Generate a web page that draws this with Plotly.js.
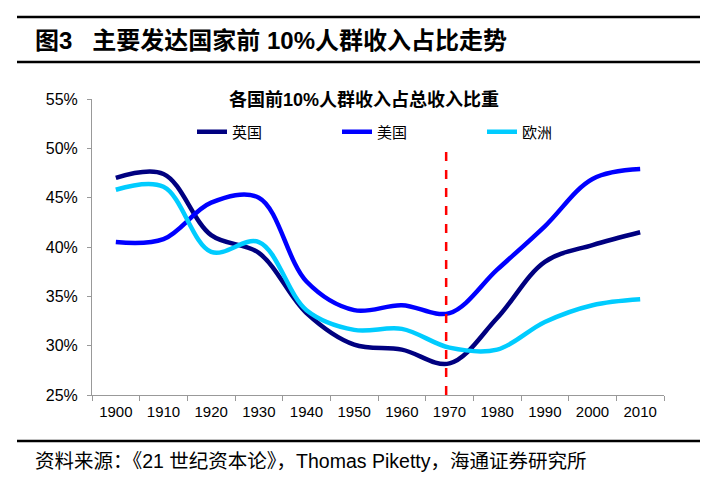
<!DOCTYPE html>
<html><head><meta charset="utf-8">
<script src="https://cdn.plot.ly/plotly-3.0.1.min.js"></script>
<style>body{margin:0;background:#fff}#c{width:710px;height:480px}</style>
</head><body><div id="c"></div>
<script>
const years = ['1900','1910','1920','1930','1940','1950','1960','1970','1980','1990','2000','2010'];
const uk = [47.0, 47.4, 41.2, 39.4, 33.3, 30.1, 29.6, 28.2, 32.8, 38.5, 40.2, 41.5];
const us = [40.5, 40.8, 44.5, 45.0, 36.5, 33.6, 34.1, 33.3, 37.7, 42.1, 46.9, 47.9];
const eu = [45.8, 46.1, 39.5, 40.5, 33.6, 31.6, 31.7, 29.8, 29.6, 32.4, 34.1, 34.7];
const seriesNames = ['英国', '美国', '欧洲'];
const markYear = '1970';
const markRange = [25, 50];
const header = '图3&nbsp;&nbsp;&nbsp;主要发达国家前 10%人群收入占比走势';
const chartTitle = '各国前10%人群收入占总收入比重';
const source = '资料来源：《21 世纪资本论》，Thomas Piketty，海通证券研究所';

const cjk = '"Noto Sans CJK SC", sans-serif';
const mixed = '"Liberation Sans", "Noto Sans CJK SC", sans-serif';
const arial = '"Liberation Sans", Arial, sans-serif';
const colors = ['#000080', '#0000FF', '#00CCFF'];
const data = [uk, us, eu].map((v, i) => ({
  x: years, y: v, name: seriesNames[i], type: 'scatter', mode: 'lines',
  line: {color: colors[i], width: 4.5, shape: 'spline', smoothing: 1}
}));

const markIdx = years.indexOf(markYear);
const layout = {
  width: 710, height: 480,
  margin: {l: 92, r: 46, t: 99, b: 85},
  paper_bgcolor: '#fff', plot_bgcolor: '#fff',
  showlegend: true,
  title: {text: '<b>' + chartTitle + '</b>', x: 364/710, xanchor: 'center', y: 1 - 100/480, yanchor: 'middle', yref: 'container', xref: 'container',
    font: {family: mixed, size: 18, color: '#000'}},
  legend: {orientation: 'h', x: (192-92)/572, xanchor: 'left', y: (395-132)/296, yanchor: 'middle',
    font: {family: cjk, size: 15, color: '#000'}, entrywidth: 100, entrywidthmode: 'pixels', bgcolor: 'rgba(0,0,0,0)'},
  xaxis: {type: 'category', range: [-0.5, 11.5], tickson: 'boundaries', ticks: 'outside', ticklen: 5, tickcolor: '#999',
    showline: true, linecolor: '#999', linewidth: 1, showgrid: false, zeroline: false, ticklabelstandoff: 3,
    tickfont: {family: arial, size: 15, color: '#000'}, fixedrange: true},
  yaxis: {range: [25, 55], dtick: 5, ticksuffix: '%', ticks: 'outside', ticklen: 4, tickcolor: '#999',
    showline: true, linecolor: '#999', linewidth: 1, showgrid: false, zeroline: false, ticklabelstandoff: 6,
    tickfont: {family: arial, size: 16, color: '#000'}, fixedrange: true},
  shapes: [
    {type: 'line', xref: 'x', yref: 'y', x0: markIdx - 0.07, x1: markIdx - 0.07, y0: markRange[0], y1: markRange[1],
      line: {color: '#FF0000', width: 2.5, dash: 'dash'}},
    {type: 'line', xref: 'paper', yref: 'paper', x0: (17-92)/572, x1: (700-92)/572, y0: (395-17)/296, y1: (395-17)/296,
      line: {color: '#000', width: 2.5}},
    {type: 'line', xref: 'paper', yref: 'paper', x0: (17-92)/572, x1: (700-92)/572, y0: (395-62)/296, y1: (395-62)/296,
      line: {color: '#000', width: 2.5}},
    {type: 'line', xref: 'paper', yref: 'paper', x0: (17-92)/572, x1: (700-92)/572, y0: (395-441)/296, y1: (395-441)/296,
      line: {color: '#000', width: 2.5}}
  ],
  annotations: [
    {text: '<b>' + header + '</b>', xref: 'paper', yref: 'paper', x: (33-92)/572, y: (395-41)/296, xanchor: 'left', yanchor: 'middle',
      showarrow: false, font: {family: mixed, size: 24, color: '#000'}},
    {text: source, xref: 'paper', yref: 'paper', x: (33-92)/572, y: (395-461)/296, xanchor: 'left', yanchor: 'middle',
      showarrow: false, font: {family: mixed, size: 19.5, color: '#000'}}
  ]
};
Plotly.newPlot('c', data, layout, {displayModeBar: false, staticPlot: true});
</script></body></html>
